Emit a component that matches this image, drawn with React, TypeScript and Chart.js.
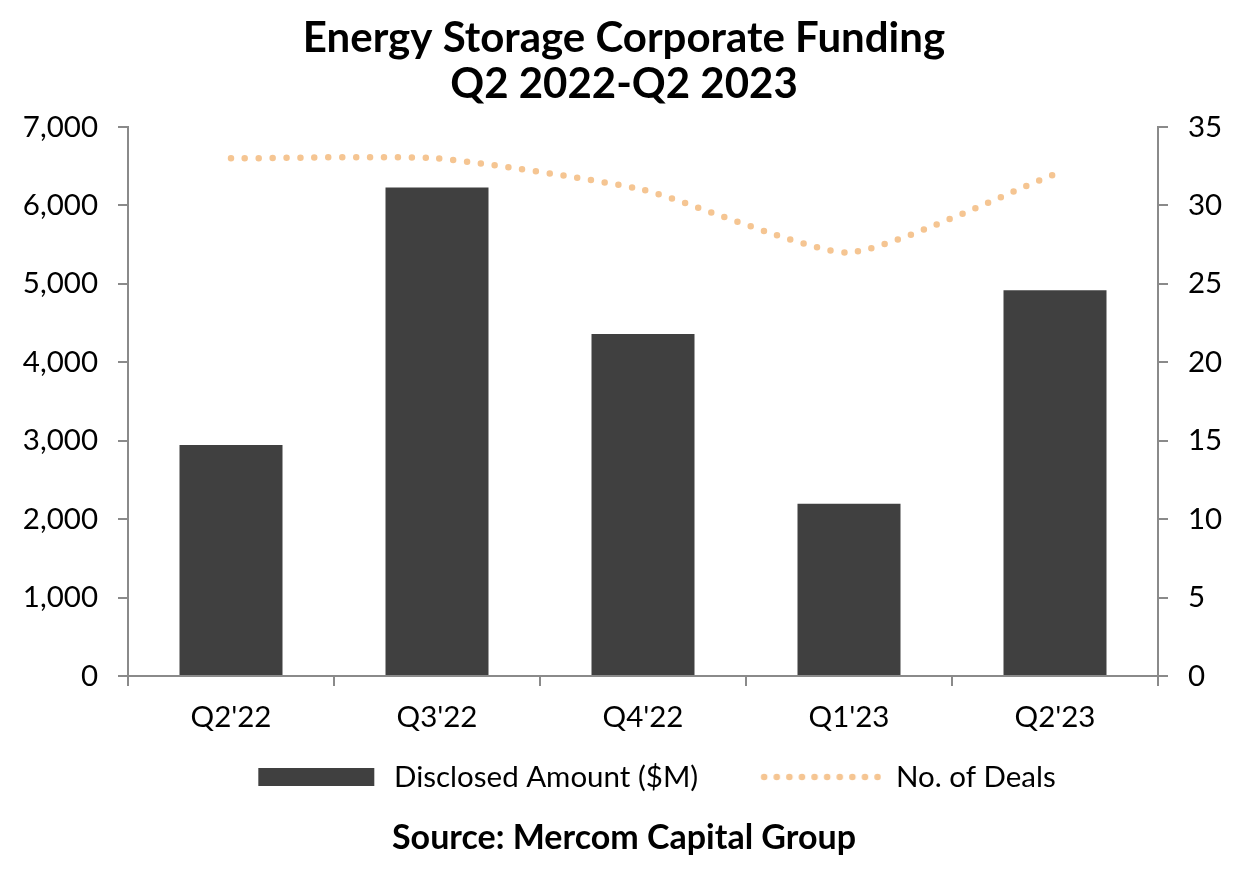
import React, { useEffect, useRef } from 'react';
import { Chart, registerables } from 'chart.js';

Chart.register(...registerables);

const quarters = ["Q2'22", "Q3'22", "Q4'22", "Q1'23", "Q2'23"];
const disclosedAmount = [2945, 6230, 4360, 2195, 4920];
const dealCount = [33, 33, 31, 27, 32];
const amountTicks = [0, 1000, 2000, 3000, 4000, 5000, 6000, 7000];
const dealTicks = [0, 5, 10, 15, 20, 25, 30, 35];

const BAR_COLOR = '#404040';
const LINE_COLOR = '#F5C592';
const AXIS_COLOR = '#8a8a8a';
const FONT = 'Lato';

// legend swatches; the blank strip on the left widens the gap between items
const SWATCH_W = 173;
const SWATCH_GAP = 52;

function makeBarSwatch() {
  const c = document.createElement('canvas');
  c.width = SWATCH_W;
  c.height = 18;
  const ctx = c.getContext('2d')!;
  ctx.fillStyle = BAR_COLOR;
  ctx.fillRect(SWATCH_GAP, 0, 116, 18);
  return c;
}

function makeDotSwatch() {
  const c = document.createElement('canvas');
  c.width = SWATCH_W;
  c.height = 8;
  const ctx = c.getContext('2d')!;
  ctx.fillStyle = LINE_COLOR;
  for (let i = 0; i < 10; i++) {
    ctx.beginPath();
    ctx.arc(SWATCH_GAP + 4 + i * 12.6, 4, 3.3, 0, Math.PI * 2);
    ctx.fill();
  }
  return c;
}

const legendShift = {
  id: 'legendShift',
  afterLayout(chart: any) {
    if (chart.legend) {
      chart.legend.left += 7;
      chart.legend.right += 7;
    }
  },
};

const App: React.FC = () => {
  const canvasRef = useRef<HTMLCanvasElement>(null);
  const chartRef = useRef<Chart | null>(null);

  useEffect(() => {
    if (!canvasRef.current) return;
    if (chartRef.current) chartRef.current.destroy();

    const swatches = [makeBarSwatch(), makeDotSwatch()];
    const axisGrid = {
      drawOnChartArea: false,
      drawTicks: true,
      tickLength: 10,
      color: AXIS_COLOR,
      lineWidth: 2,
    };
    const axisBorder = { display: true, color: AXIS_COLOR, width: 2 };
    const tickFont = { family: FONT, size: 29.5 };

    chartRef.current = new Chart(canvasRef.current, {
      type: 'bar',
      data: {
        labels: quarters,
        datasets: [
          {
            type: 'bar',
            label: 'Disclosed Amount ($M)',
            data: disclosedAmount,
            backgroundColor: BAR_COLOR,
            categoryPercentage: 1,
            barPercentage: 0.5,
            yAxisID: 'y',
          },
          {
            type: 'line',
            label: 'No. of Deals',
            data: dealCount,
            borderColor: LINE_COLOR,
            backgroundColor: LINE_COLOR,
            borderWidth: 6.5,
            borderDash: [0, 13.9],
            borderCapStyle: 'round',
            pointRadius: 0,
            tension: 0.18,
            yAxisID: 'y1',
          },
        ] as any,
      },
      options: {
        animation: false,
        responsive: true,
        maintainAspectRatio: false,
        layout: { padding: 0 },
        font: { family: FONT },
        scales: {
          x: {
            grid: { ...axisGrid, offset: true },
            border: axisBorder,
            ticks: { font: tickFont, color: '#000', padding: 13.3 },
            afterFit: (s: any) => {
              s.height = 76.25;
            },
          },
          y: {
            position: 'left',
            min: 0,
            max: 7000,
            afterBuildTicks: (s: any) => {
              s.ticks = amountTicks.map((v) => ({ value: v }));
            },
            grid: axisGrid,
            border: axisBorder,
            ticks: {
              font: tickFont,
              color: '#000',
              padding: 20,
              callback: (v: any) => Number(v).toLocaleString('en-US'),
            },
            afterFit: (s: any) => {
              s.width = 128;
            },
          },
          y1: {
            position: 'right',
            min: 0,
            max: 35,
            afterBuildTicks: (s: any) => {
              s.ticks = dealTicks.map((v) => ({ value: v }));
            },
            grid: axisGrid,
            border: axisBorder,
            ticks: { font: tickFont, color: '#000', padding: 20 },
            afterFit: (s: any) => {
              s.width = 90;
            },
          },
        },
        plugins: {
          title: {
            display: true,
            text: ['Energy Storage Corporate Funding', 'Q2 2022-Q2 2023'],
            color: '#000',
            font: { family: FONT, size: 42, weight: 'bold', lineHeight: 1.1 },
            padding: { top: 15.6, bottom: 19 },
          },
          subtitle: {
            display: true,
            position: 'bottom',
            text: 'Source: Mercom Capital Group',
            color: '#000',
            font: { family: FONT, size: 34, weight: 'bold', lineHeight: 1.2 },
            padding: { top: 16.35, bottom: 24.1 },
          },
          legend: {
            position: 'bottom',
            labels: {
              color: '#000',
              font: { family: FONT, size: 29.5 },
              padding: 10,
              usePointStyle: true,
              pointStyleWidth: SWATCH_W,
              generateLabels: (chart: any) =>
                Chart.defaults.plugins.legend.labels
                  .generateLabels(chart)
                  .map((item: any, i: number) => ({ ...item, pointStyle: swatches[i] })),
            },
          },
          tooltip: { enabled: false },
        },
      },
      plugins: [legendShift],
    });

    return () => {
      if (chartRef.current) {
        chartRef.current.destroy();
        chartRef.current = null;
      }
    };
  }, []);

  return (
    <div style={{ position: 'fixed', left: 0, top: 0, width: 1248, height: 883, background: '#fff' }}>
      <canvas ref={canvasRef}></canvas>
    </div>
  );
};

export default App;
